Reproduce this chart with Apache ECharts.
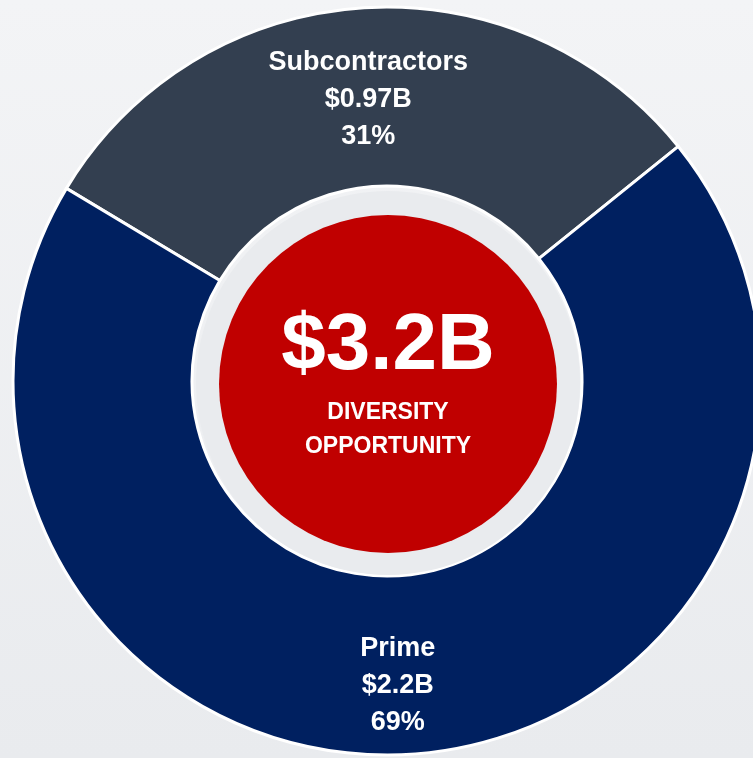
<!DOCTYPE html>
<html>
<head>
<meta charset="utf-8">
<script src="https://cdn.jsdelivr.net/npm/echarts@6/dist/echarts.min.js"></script>
<style>
  html, body { margin: 0; padding: 0; }
  #main { width: 753px; height: 758px; }
</style>
</head>
<body>
<div id="main"></div>
<script>
// 分类
var categories = ['Subcontractors', 'Prime'];
// 金额 (十亿美元)
var values = [0.97, 2.2];
// 标签文字
var valueLabels = ['$0.97B', '$2.2B'];
var percentLabels = ['31%', '69%'];
// 中心文字
var totalLabel = '$3.2B';
var centerLines = ['DIVERSITY', 'OPPORTUNITY'];

var colors = ['#333f50', '#002060'];
var font = '"Liberation Sans Narrow", "Arial Narrow", "Liberation Sans", sans-serif';

var myChart = echarts.init(document.getElementById('main'));

var donutData = categories.map(function (name, i) {
    return { name: name, value: values[i], itemStyle: { color: colors[i] } };
});
var total = values.reduce(function (a, b) { return a + b; }, 0);

var option = {
    animation: false,
    backgroundColor: new echarts.graphic.LinearGradient(0, 0, 0, 1, [
        { offset: 0, color: '#f3f4f6' },
        { offset: 1, color: '#e9ebee' }
    ]),
    series: [
        {
            // 外环
            type: 'pie',
            silent: true,
            center: [387, 381],
            radius: [195, 374],
            startAngle: 149,
            clockwise: true,
            itemStyle: { borderColor: '#ffffff', borderWidth: 3 },
            label: {
                show: true,
                position: 'inside',
                color: '#ffffff',
                fontFamily: font,
                fontWeight: 'bold',
                fontSize: 27,
                lineHeight: 37,
                formatter: function (p) {
                    var i = p.dataIndex;
                    return categories[i] + '\n' + valueLabels[i] + '\n' + percentLabels[i];
                }
            },
            labelLine: { show: false },
            labelLayout: function (params) {
                if (params.dataIndex === 1) return { dx: -4.5, dy: 9 };
                return { dx: 0.5, dy: 2.5 };
            },
            data: donutData
        },
        {
            // 浅色内圈
            type: 'pie',
            silent: true,
            center: [388, 383],
            radius: [0, 192],
            label: { show: false },
            itemStyle: { color: '#e9ebee' },
            data: [{ name: 'ring', value: total }]
        },
        {
            // 红色中心
            type: 'pie',
            silent: true,
            center: [388, 384],
            radius: [0, 169],
            itemStyle: { color: '#c00000' },
            label: {
                show: true,
                position: 'center',
                padding: [0, 0, 7, 0],
                formatter: function () {
                    return '{big|' + totalLabel + '}\n{small|' + centerLines[0] + '}\n{small|' + centerLines[1] + '}';
                },
                rich: {
                    big: {
                        color: '#ffffff',
                        fontFamily: font,
                        fontWeight: 'bold',
                        fontSize: 80,
                        lineHeight: 98
                    },
                    small: {
                        color: '#ffffff',
                        fontFamily: font,
                        fontWeight: 'bold',
                        fontSize: 23,
                        lineHeight: 34
                    }
                }
            },
            labelLine: { show: false },
            data: [{ name: 'total', value: total }]
        }
    ]
};

myChart.setOption(option);
myChart.resize();
</script>
</body>
</html>
